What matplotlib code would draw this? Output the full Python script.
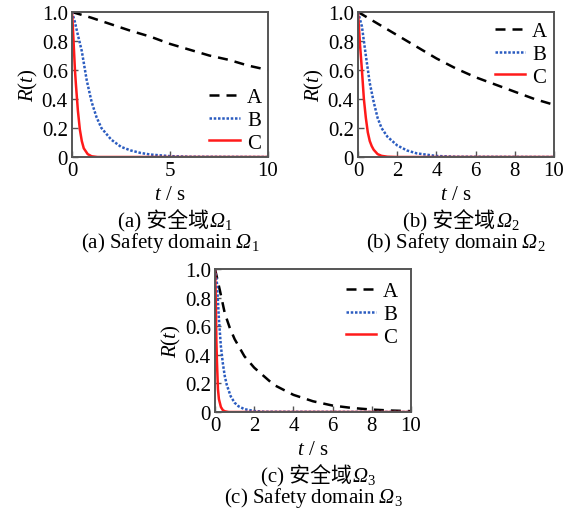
import matplotlib
matplotlib.use("Agg")
import matplotlib.pyplot as plt

plt.rcParams['font.family'] = ['Liberation Serif', 'Noto Sans CJK SC']
plt.rcParams['mathtext.fontset'] = 'custom'
plt.rcParams['mathtext.rm'] = 'Liberation Serif'
plt.rcParams['mathtext.it'] = 'Liberation Serif:italic'
plt.rcParams['mathtext.sf'] = 'Liberation Serif:italic'  # used for the italic Omega

# ---- data ----
# (a) safety domain 1
a_tA = [0, 1, 2, 3, 4, 5, 6, 7, 8, 9, 10]
a_A = [1.0, 0.96, 0.915, 0.87, 0.83, 0.78, 0.74, 0.70, 0.67, 0.63, 0.60]
a_tB = [0, 0.15, 0.25, 0.5, 0.75, 1.0, 1.25, 1.5, 2.0, 2.5, 3.0, 3.5, 4.0, 5.0, 6.0, 10]
a_B = [1.0, 0.93, 0.87, 0.73, 0.53, 0.38, 0.275, 0.20, 0.12, 0.07, 0.045, 0.028, 0.017, 0.006, 0.002, 0.0]
a_tC = [0, 0.05, 0.1, 0.15, 0.2, 0.3, 0.4, 0.5, 0.6, 0.8, 1.0, 1.3, 10]
a_C = [1.0, 0.88, 0.74, 0.60, 0.50, 0.32, 0.19, 0.11, 0.06, 0.02, 0.005, 0.0, 0.0]

# (b) safety domain 2
b_tA = [0, 1, 2, 3, 4, 5, 6, 7, 8, 9, 10]
b_A = [1.0, 0.92, 0.84, 0.76, 0.68, 0.61, 0.55, 0.50, 0.45, 0.40, 0.36]
b_tB = [0, 0.2, 0.4, 0.6, 0.8, 1.0, 1.2, 1.5, 2.0, 2.5, 3.0, 4.0, 5.0, 10]
b_B = [1.0, 0.90, 0.70, 0.51, 0.38, 0.27, 0.20, 0.14, 0.08, 0.045, 0.025, 0.007, 0.002, 0.0]
b_tC = [0, 0.1, 0.2, 0.3, 0.4, 0.5, 0.6, 0.7, 0.8, 1.0, 1.2, 1.5, 2.0, 10]
b_C = [1.0, 0.78, 0.60, 0.40, 0.27, 0.17, 0.11, 0.075, 0.05, 0.02, 0.008, 0.002, 0.0, 0.0]

# (c) safety domain 3
c_tA = [0, 0.25, 0.5, 0.75, 1, 1.5, 2, 2.5, 3, 3.5, 4, 5, 6, 7, 8, 9, 10]
c_A = [1.0, 0.85, 0.69, 0.59, 0.51, 0.39, 0.31, 0.25, 0.19, 0.155, 0.12, 0.075, 0.045, 0.028, 0.017, 0.01, 0.006]
c_tB = [0, 0.1, 0.2, 0.3, 0.4, 0.5, 0.6, 0.8, 1.0, 1.2, 1.5, 2.0, 2.5, 10]
c_B = [1.0, 0.90, 0.65, 0.46, 0.34, 0.25, 0.19, 0.11, 0.065, 0.04, 0.02, 0.007, 0.002, 0.0]
c_tC = [0, 0.03, 0.05, 0.07, 0.1, 0.15, 0.2, 0.3, 0.4, 0.5, 0.7, 10]
c_C = [1.0, 0.85, 0.70, 0.50, 0.35, 0.16, 0.09, 0.035, 0.013, 0.005, 0.0, 0.0]

labels = ['A', 'B', 'C']
letters = ['(a)', '(b)', '(c)']
xticks_list = [[0, 5, 10], [0, 2, 4, 6, 8, 10], [0, 2, 4, 6, 8, 10]]
yticks = [0, 0.2, 0.4, 0.6, 0.8, 1.0]
ytick_labels = ['0', '0.2', '0.4', '0.6', '0.8', '1.0']

panels = [
    (a_tA, a_A, a_tB, a_B, a_tC, a_C),
    (b_tA, b_A, b_tB, b_B, b_tC, b_C),
    (c_tA, c_A, c_tB, c_B, c_tC, c_C),
]

# layout (figure fractions)
W, H = 571, 510
boxes = [
    [72 / W, 1 - 158 / H, 196 / W, 145 / H],
    [358 / W, 1 - 158 / H, 196 / W, 145 / H],
    [215 / W, 1 - 413 / H, 196 / W, 143 / H],
]
legend_anchor = [(0.97, 0.255), (0.965, 0.71), (0.935, 0.685)]

FS = 15
fig = plt.figure(figsize=(W / 100, H / 100), dpi=100)

for i, (tA, A, tB, B, tC, C) in enumerate(panels):
    ax = fig.add_axes(boxes[i])
    lw = 1.8
    ax.plot(tA, A, color='black', lw=lw, dashes=(4, 2.8), label=labels[0])
    ax.plot(tB, B, color='#2b5cc0', lw=lw, dashes=(1, 0.7), label=labels[1])
    ax.plot(tC, C, color='#ff1a1a', lw=lw, label=labels[2])

    ax.set_xlim(0, 10)
    ax.set_ylim(0, 1.0)
    ax.set_xticks(xticks_list[i])
    ax.set_xticklabels([str(v) for v in xticks_list[i]])
    ax.set_yticks(yticks)
    ax.set_yticklabels(ytick_labels)
    ax.tick_params(direction='in', length=4, width=1, color='#555555',
                   labelsize=FS, pad=3)
    for sp in ax.spines.values():
        sp.set_color('#555555')
        sp.set_linewidth(1.4)

    ax.set_ylabel(r'$R(t)$', fontsize=FS, labelpad=1)

    ax.legend(loc='center right', bbox_to_anchor=legend_anchor[i], frameon=False,
              fontsize=FS, handlelength=1.45, handletextpad=0.35,
              labelspacing=0.15, borderpad=0, borderaxespad=0)

    # x label and captions
    x0, y0, w, h = boxes[i]
    cx = x0 + w / 2
    fig.text(cx, y0 - 42 / H, r'$t$ / s', fontsize=FS, ha='center', va='baseline')
    t1 = fig.text(cx - 0.012, y0 - 69 / H, letters[i] + ' 安全域', fontsize=FS,
                  ha='center', va='baseline')
    ax.annotate(r'$\mathsf{Ω}_%d$' % (i + 1), xy=(1, 0), xycoords=t1,
                xytext=(0.5, 0), textcoords='offset points',
                fontsize=FS, ha='left', va='bottom')
    fig.text(cx, y0 - 90 / H, letters[i] + r' Safety domain $\mathsf{Ω}_%d$' % (i + 1),
             fontsize=FS, ha='center', va='baseline')

fig.savefig('out.png', dpi=100)
